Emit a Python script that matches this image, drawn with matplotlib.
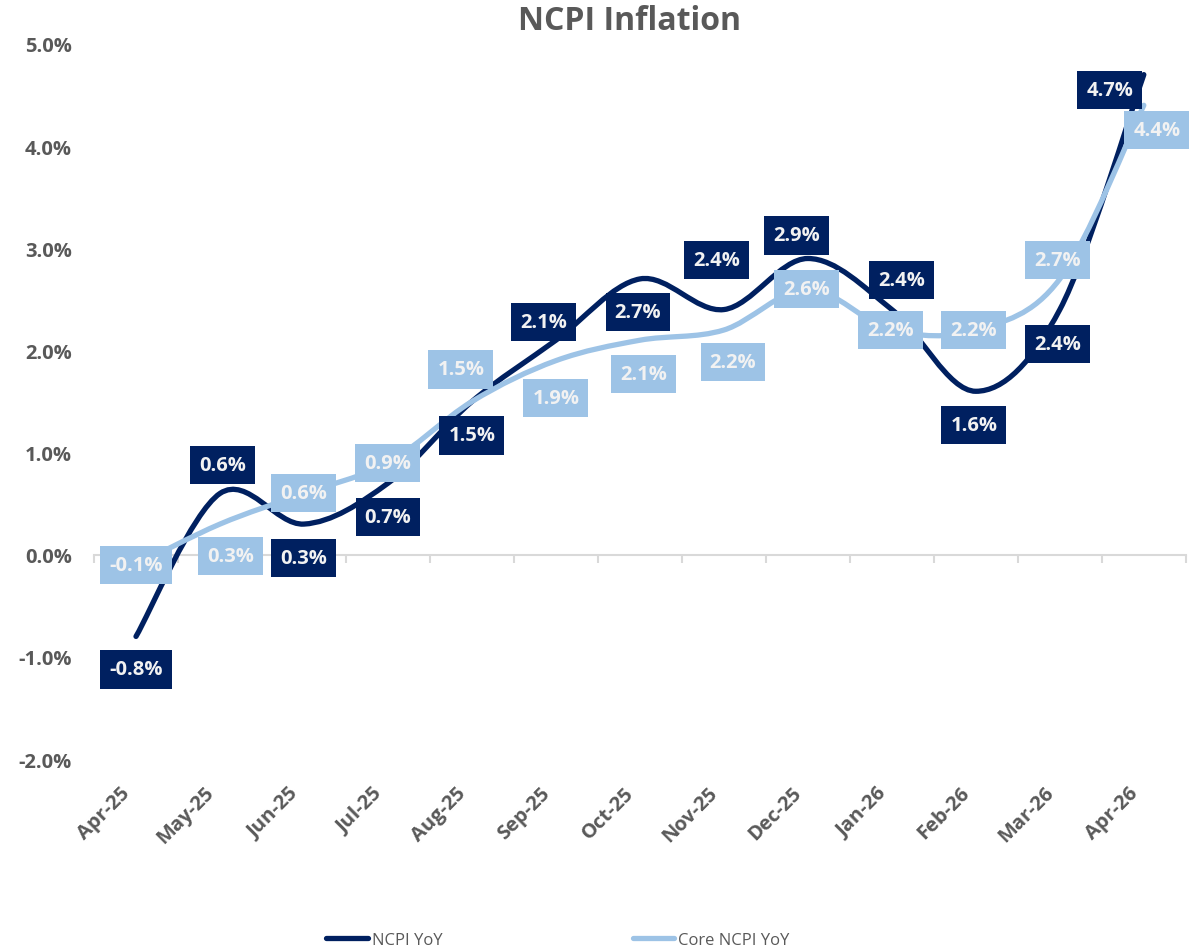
import matplotlib
matplotlib.use("Agg")
import matplotlib.pyplot as plt
from matplotlib.path import Path
from matplotlib.patches import PathPatch
from matplotlib.lines import Line2D
from matplotlib.transforms import ScaledTranslation

months = ["Apr-25", "May-25", "Jun-25", "Jul-25", "Aug-25", "Sep-25", "Oct-25",
          "Nov-25", "Dec-25", "Jan-26", "Feb-26", "Mar-26", "Apr-26"]
ncpi_yoy = [-0.8, 0.6, 0.3, 0.7, 1.5, 2.1, 2.7, 2.4, 2.9, 2.4, 1.6, 2.4, 4.7]
core_yoy = [-0.1, 0.3, 0.6, 0.9, 1.5, 1.9, 2.1, 2.2, 2.6, 2.2, 2.2, 2.7, 4.4]

# label placement (pixels, relative to the point)
ncpi_offsets = [(0, -33), (3, 28), (0, -34), (0, -34), (0, -34), (-12, 18), (-2, -33),
                (-7, 50), (-11, 23), (10, 30), (-2, -34), (-2, -34), (-34, -15)]
core_offsets = [(0, 0), (11, -32), (0, 0), (0, 0), (-11, 32), (0, -37), (4, -34),
                (9, -32), (-1, 0), (-1, 0), (-2, 0), (-2, 19), (13, -25)]

NAVY = "#002060"
LIGHT = "#9DC3E6"
GREY = "#595959"

plt.rcParams["font.family"] = ["Open Sans", "DejaVu Sans"]


def smooth_path(xs, ys):
    # Excel-style smoothed line: Catmull-Rom segments as cubic Beziers
    pts = list(zip(xs, ys))
    n = len(pts)
    verts = [pts[0]]
    codes = [Path.MOVETO]
    for i in range(n - 1):
        p0 = pts[i - 1] if i > 0 else pts[i]
        p1 = pts[i]
        p2 = pts[i + 1]
        p3 = pts[i + 2] if i + 2 < n else pts[i + 1]
        c1 = (p1[0] + (p2[0] - p0[0]) / 6, p1[1] + (p2[1] - p0[1]) / 6)
        c2 = (p2[0] - (p3[0] - p1[0]) / 6, p2[1] - (p3[1] - p1[1]) / 6)
        verts += [c1, c2, p2]
        codes += [Path.CURVE4] * 3
    return Path(verts, codes)


fig = plt.figure(figsize=(11.99, 9.53), dpi=100)
ax = fig.add_axes([0.0784, 0.2025, 0.9106, 0.7503])

x = list(range(len(months)))

for ys, color in [(ncpi_yoy, NAVY), (core_yoy, LIGHT)]:
    patch = PathPatch(smooth_path(x, ys), facecolor="none", edgecolor=color,
                      lw=3.8, capstyle="round", joinstyle="round", zorder=3)
    ax.add_patch(patch)

for ys, offs, color in [(core_yoy, core_offsets, LIGHT), (ncpi_yoy, ncpi_offsets, NAVY)]:
    for xi, yi, (dx, dy) in zip(x, ys, offs):
        ax.annotate(f"{yi:.1f}%", (xi, yi), xytext=(dx, dy), textcoords="offset pixels",
                    ha="center", va="center", fontsize=14.5, fontweight="bold",
                    color="#F2F2F2", zorder=5,
                    bbox=dict(boxstyle="square,pad=0.45", fc=color, ec="none"))

ax.set_xlim(-0.5, len(months) - 0.5)
ax.set_ylim(-2, 5)
ax.set_yticks([-2, -1, 0, 1, 2, 3, 4, 5])
ax.set_yticklabels([f"{v:.1f}%" for v in range(-2, 6)])
ax.tick_params(axis="y", length=0, pad=16, labelsize=14.5, labelcolor=GREY)
for lab in ax.get_yticklabels():
    lab.set_fontweight("bold")

ax.set_xticks(x)
ax.set_xticklabels(months, rotation=45, ha="right", va="center",
                   rotation_mode="anchor", fontsize=14.5, fontweight="bold", color=GREY)
ax.tick_params(axis="x", length=0, pad=22)
shift = ScaledTranslation(-9 / 100, 0, fig.dpi_scale_trans)
for lab in ax.get_xticklabels():
    lab.set_transform(lab.get_transform() + shift)

for s in ax.spines.values():
    s.set_visible(False)

# category axis drawn through zero
zero_ax = ax.secondary_xaxis(2 / 7)
zero_ax.set_xticks([i - 0.5 for i in range(len(months) + 1)])
zero_ax.tick_params(axis="x", direction="out", length=6, width=1.5, color="#D9D9D9",
                    labelbottom=False, labeltop=False, bottom=True, top=False)
zero_ax.xaxis.set_ticks_position("bottom")
zero_ax.set_xticklabels([])
zero_ax.spines["bottom"].set_color("#D9D9D9")
zero_ax.spines["bottom"].set_linewidth(1.5)
zero_ax.spines["top"].set_visible(False)

fig.text(630 / 1199, 1 - 21 / 953, "NCPI Inflation", ha="center", va="center",
         fontsize=23, fontweight="bold", color=GREY)

handles = [Line2D([], [], color=NAVY, lw=3.8, solid_capstyle="round"),
           Line2D([], [], color=LIGHT, lw=3.8, solid_capstyle="round")]
fig.legend(handles, ["NCPI YoY", "Core NCPI YoY"], loc="center", ncol=2,
           bbox_to_anchor=(558 / 1199, 1 - 941 / 953), frameon=False,
           fontsize=12, labelcolor=GREY, handlelength=2.5, handletextpad=0.25,
           columnspacing=11.4)

fig.savefig("out.png", dpi=100)
